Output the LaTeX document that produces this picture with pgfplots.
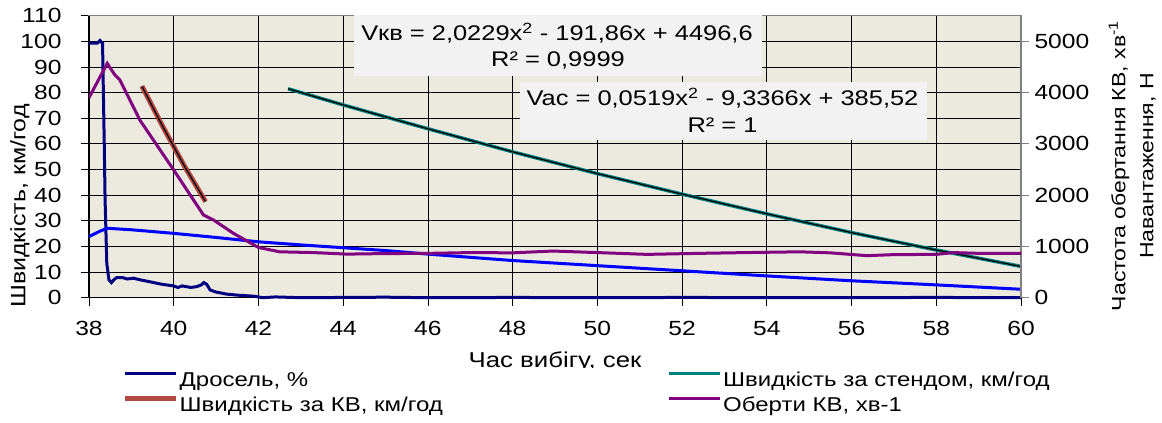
\documentclass[border=0pt]{standalone}
\usepackage{fontspec}
\setmainfont{Liberation Sans}[FakeStretch=1.2]
\usepackage{pgfplots}
\pgfplotsset{compat=1.18}
\definecolor{bgc}{RGB}{236,233,223}
\definecolor{navyc}{RGB}{0,0,128}
\definecolor{bluec}{RGB}{0,0,255}
\definecolor{tealc}{RGB}{0,128,128}
\definecolor{brownc}{RGB}{178,74,68}
\definecolor{purplec}{RGB}{128,0,128}
\definecolor{boxc}{RGB}{242,242,242}
\definecolor{framec}{RGB}{128,128,128}
\begin{document}
\begin{tikzpicture}[x=1pt,y=1pt]
\useasboundingbox (0,0) rectangle (1162,-423);
% x label (partly hidden by legend, as in the reference)
\node[anchor=base, font=\fontsize{21.5}{21.5}\selectfont] at (555,-367) {Час вибігу, сек};
\begin{axis}[
  at={(89pt,-297.7pt)}, anchor=south west,
  scale only axis, width=932pt, height=282pt,
  xmin=38, xmax=60, ymin=0, ymax=110,
  xtick={38,40,...,60}, ytick={0,10,...,110},
  xtick pos=bottom, ytick pos=left,
  grid=major, major grid style={black, line width=0.8pt},
  axis background/.style={fill=bgc},
  axis line style={framec, line width=1.2pt},
  tick align=outside, major tick length=8pt,
  tick style={black, line width=0.8pt},
  ticklabel style={font=\fontsize{20.5}{20.5}\selectfont},
  xticklabel style={yshift=-12pt},
  yticklabel style={xshift=-16pt},
  /pgf/number format/assume math mode=true,
  clip=false,
  legend columns=2,
  legend cell align=left,
  legend image code/.code={\draw[#1] (0pt,6.7pt) -- (51pt,6.7pt);},
  legend style={at={(rel axis cs:0.0354,-0.2475)}, anchor=north west,
    draw=none, fill=white, inner sep=0pt,
    font=\fontsize{20}{20}\selectfont,
    nodes={inner xsep=1.5pt, inner ysep=0pt, text height=19pt, text depth=6pt}},
]
\draw[black, line width=1.2pt] (rel axis cs:0,1) -- (rel axis cs:0,0) -- (rel axis cs:1,0);
% throttle
\addplot[navyc, line width=3pt] coordinates {
(38.0,99.3) (38.2,99.3) (38.26,100.3) (38.32,99.2) (38.36,60) (38.38,38) (38.42,13.4)
(38.47,7.0) (38.53,5.9) (38.6,7.2) (38.65,7.8) (38.8,7.8) (38.9,7.3) (39.05,7.6) (39.2,7.0)
(39.44,6.2) (39.7,5.3) (39.99,4.6) (40.1,4.0) (40.2,4.6) (40.3,4.3) (40.4,4.0) (40.54,4.3)
(40.65,5.0) (40.71,5.9) (40.78,5.2) (40.86,3.0) (41.0,2.2) (41.25,1.4) (41.5,1.0) (41.88,0.6)
(42.1,0) (42.4,0.3) (43,0) (45,0.2) (46,0) (48,0.1) (50,0) (52,0.1) (55,0) (58,0.1) (60,0)};
\addlegendentry{\makebox[486pt][l]{Дросель, \%}}
% load / blue line
\addplot[bluec, line width=3pt, forget plot] coordinates {
(38.0,23.8) (38.2,25.5) (38.42,27.1) (39,26.5) (40,25.1) (41,23.5) (42,21.8) (43,20.6)
(44,19.5) (45,18.4) (46,17.0) (48,14.5) (50,12.5) (52,10.5) (54,8.5) (56,6.6) (58,5.0) (60,3.3)};
% stand speed
\addplot[tealc, line width=3.5pt] coordinates {
(42.7,81.5) (44,75.2) (46,65.9) (48,56.9) (50,48.4) (52,40.4) (54,32.7) (56,25.4) (58,18.6) (60,12.2)};
\addlegendentry{Швидкість за стендом, км/год}
\addplot[black, line width=1.2pt, forget plot] coordinates {
(42.7,81.5) (44,75.2) (46,65.9) (48,56.9) (50,48.4) (52,40.4) (54,32.7) (56,25.4) (58,18.6) (60,12.2)};
% speed by crankshaft
\addplot[brownc, line width=5pt] coordinates {
(39.25,82.5) (39.75,66.5) (40.25,51.4) (40.75,37.5)};
\addlegendentry{\makebox[486pt][l]{Швидкість за КВ, км/год}}
\addplot[black, line width=1.2pt, forget plot] coordinates {
(39.25,82.5) (39.75,66.5) (40.25,51.4) (40.75,37.5)};
\addlegendimage{purplec, line width=3pt}
\addlegendentry{Оберти КВ, хв-1}
\end{axis}
\begin{axis}[
  at={(89pt,-297.7pt)}, anchor=south west,
  scale only axis, width=932pt, height=282pt,
  xmin=38, xmax=60, ymin=0, ymax=5500,
  axis x line=none, axis y line*=right,
  y axis line style={framec, line width=1.2pt, -},
  ytick={0,1000,...,5000},
  tick align=outside, major tick length=8pt,
  tick style={framec, line width=0.8pt},
  yticklabel style={font=\fontsize{20.5}{20.5}\selectfont, anchor=west, xshift=2pt, /pgf/number format/1000 sep={}},
  scaled y ticks=false,
  /pgf/number format/assume math mode=true,
]
\addplot[purplec, line width=3pt] coordinates {
(38.0,3900) (38.43,4570) (38.61,4345) (38.73,4245) (39.2,3465) (40.0,2490) (40.7,1615)
(40.94,1515) (41.41,1255) (42.0,980) (42.5,895) (43.3,880) (44.1,850) (44.9,860) (46,865)
(47,880) (48,875) (48.95,910) (50,880) (51.17,845) (52.42,865) (53.5,880) (54.78,895)
(55.5,875) (56.36,820) (57,840) (58,845) (58.4,880) (59,865) (60,865)};
\end{axis}
% trendline labels
\fill[boxc] (354,-15) rectangle (762,-76);
\node[font=\fontsize{21.2}{21.2}\selectfont] at (557,-33) {Vкв = 2,0229x\textsuperscript{2} - 191,86x + 4496,6};
\node[font=\fontsize{21.2}{21.2}\selectfont] at (558,-60) {R² = 0,9999};
\fill[boxc] (520,-82) rectangle (927,-140);
\node[font=\fontsize{21.2}{21.2}\selectfont] at (722.5,-98.3) {Vac = 0,0519x\textsuperscript{2} - 9,3366x + 385,52};
\node[font=\fontsize{21.2}{21.2}\selectfont] at (722.5,-125) {R² = 1};
% axis titles
\node[rotate=90, font=\fontsize{20.8}{20.8}\selectfont] at (20,-206) {Швидкість, км/год};
\node[rotate=90, font=\fontsize{19.2}{19.2}\selectfont] at (1119,-166) {Частота обертання КВ, хв\textsuperscript{-1}};
\node[rotate=90, font=\fontsize{19.2}{19.2}\selectfont] at (1148,-166) {Навантаження, Н};
\end{tikzpicture}
\end{document}
